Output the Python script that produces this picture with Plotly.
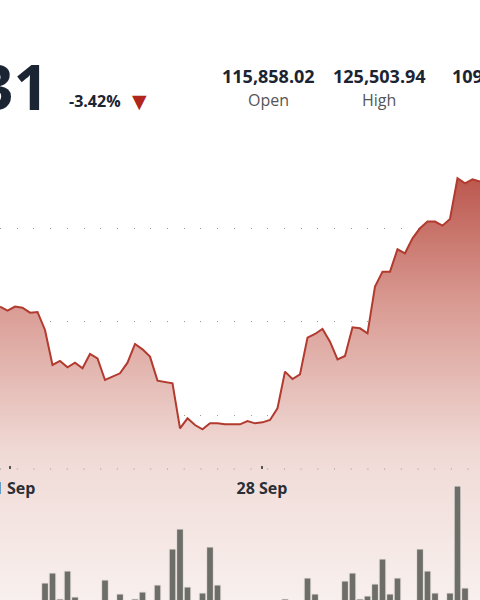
import numpy as np
import pandas as pd
import plotly.graph_objects as go

# === Price series (5h steps) ===
price = [115795, 115581, 115795, 115741, 115474, 115509, 114547, 112675, 112888, 112550,
         112799, 112496, 113263, 113031, 111872, 112050, 112229, 112799, 113798, 113513,
         113120, 111836, 111747, 111694, 109287, 109822, 109465, 109233, 109554, 109554,
         109501, 109501, 109501, 109679, 109554, 109608, 109733, 110357, 112318, 111926,
         112175, 114137, 114333, 114600, 113923, 112978, 113156, 114689, 114636, 114368,
         116865, 117667, 117667, 118862, 118648, 119450, 119985, 120341, 120341, 120127,
         120484, 122659, 122392, 122606, 122481]

# volume per step (arbitrary units), small values sit below the visible area
volume = [8, 10, 12, 9, 14, 11, 37, 47, 21, 49, 23, 12, 15, 10, 40, 13, 26, 9, 21, 28,
          12, 35, 13, 71, 91, 33, 13, 27, 73, 35, 15, 10, 12, 9, 14, 11, 13, 10, 21, 12,
          9, 42, 26, 14, 12, 10, 39, 47, 21, 24, 36, 61, 26, 42, 12, 14, 71, 49, 27, 11,
          27, 134, 32, 12, 10]

times = pd.date_range("2025-09-20 17:20", periods=len(price), freq="5h")
tick_dates = ["2025-09-21", "2025-09-28"]

stats_vals = ["115,858.02", "125,503.94", "109,236.72"]
stats_names = ["Open", "High", "Low"]
stats_x = [268, 379, 498]

W, H = 480, 600
px_per_day = 36
x0 = pd.Timestamp("2025-09-21") - pd.Timedelta(days=10 / px_per_day)
x1 = x0 + pd.Timedelta(days=W / px_per_day)

p_lo = 110000 - 185 / 93.5 * 5000
p_hi = 110000 + 415 / 93.5 * 5000

fig = go.Figure()

fig.add_trace(go.Scatter(x=times, y=[p_lo] * len(times), mode="lines",
                         line=dict(width=0), showlegend=False, hoverinfo="skip"))
fig.add_trace(go.Scatter(
    x=times, y=price, mode="lines", fill="tonexty",
    line=dict(color="#b23a2e", width=2),
    fillgradient=dict(type="vertical",
                      colorscale=[[0, "rgba(248,240,238,1)"], [0.35, "rgba(240,218,214,1)"],
                                  [0.7, "rgba(217,155,147,1)"], [1, "rgba(188,88,78,1)"]]),
    showlegend=False))

fig.add_trace(go.Bar(x=times, y=volume,
                     marker=dict(color="#6e6e68", line=dict(color="#ece4e1", width=1)),
                     yaxis="y2", showlegend=False, width=5 * 3600 * 1000 * 0.9))

fig.update_layout(
    width=W, height=H,
    margin=dict(l=0, r=0, t=0, b=0, autoexpand=False),
    paper_bgcolor="white", plot_bgcolor="rgba(0,0,0,0)",
    xaxis=dict(range=[x0, x1], anchor="free", position=(H - 469) / H,
               showgrid=False, zeroline=False, showline=False,
               tickvals=tick_dates, tickformat="%-d %b", ticks="inside", ticklen=3,
               tickwidth=2, tickcolor="#555", ticklabeloverflow="allow",
               ticklabelstandoff=8,
               tickfont=dict(family="Open Sans", size=16, color="#2a2f36", weight=700)),
    yaxis=dict(range=[p_lo, p_hi], showticklabels=False, zeroline=False,
               tickvals=[110000, 115000, 120000], gridcolor="#9a9a9a",
               griddash="1px,15.7px", gridwidth=1),
    yaxis2=dict(range=[20, 620], overlaying="y", showgrid=False, showticklabels=False,
                zeroline=False),
)

fig.add_shape(type="line", xref="paper", yref="paper", x0=0, x1=1,
              y0=(H - 469) / H, y1=(H - 469) / H,
              line=dict(color="#9a9a9a", width=1, dash="1px,15.7px"))


def label(x, y, text, size, color, weight=400, xanchor="center", family="Open Sans"):
    fig.add_annotation(x=x / W, y=1 - y / H, xref="paper", yref="paper",
                       xanchor=xanchor, yanchor="middle", text=text, showarrow=False,
                       font=dict(family=family, size=size, color=color, weight=weight))


label(51, 86, "111,896.31", 62, "#1b2433", 700, xanchor="right")
label(67, 101, "-3.42%", 16, "#1b2433", 700, xanchor="left")
label(139, 101, "▼", 19, "#b0261a", family="DejaVu Sans")
for v, n, cx in zip(stats_vals, stats_names, stats_x):
    label(cx, 76, v, 18, "#1b2433", 700)
    label(cx, 100, n, 16, "#555")

fig.write_html("out.html", config={"displayModeBar": False},
               post_script="document.body.style.margin='0';")
